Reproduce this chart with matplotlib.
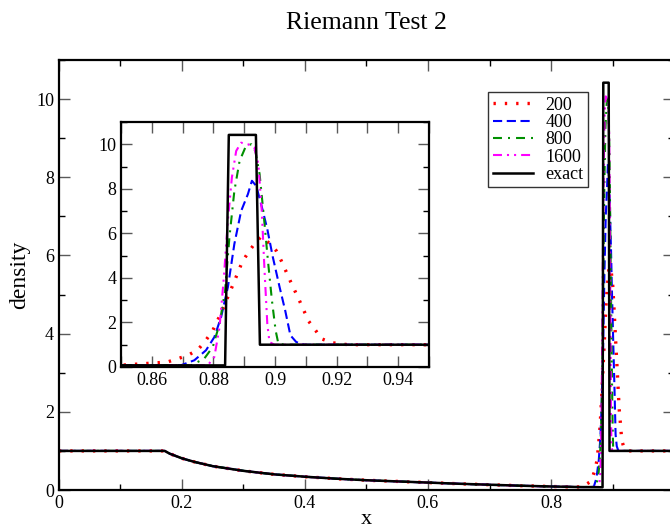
import matplotlib
matplotlib.use("Agg")
import matplotlib.pyplot as plt
from matplotlib.ticker import MultipleLocator

plt.rcParams['font.family'] = ['Liberation Serif', 'DejaVu Serif']

# smooth part (rarefaction) shared by all runs
x_base = [0.0, 0.172, 0.18, 0.19, 0.2, 0.22, 0.25, 0.3, 0.35, 0.4, 0.45, 0.5,
          0.55, 0.6, 0.65, 0.7, 0.75, 0.8, 0.84]
rho_base = [1.0, 1.0, 0.93, 0.87, 0.81, 0.72, 0.61, 0.49, 0.40, 0.34, 0.29, 0.25,
            0.22, 0.19, 0.16, 0.135, 0.11, 0.09, 0.078]

# region around the shell, per resolution
x_200 = [0.85, 0.865, 0.8717, 0.875, 0.8773, 0.8798, 0.8825, 0.8852, 0.8866, 0.8879,
         0.8893, 0.8912, 0.8933, 0.8955, 0.8982, 0.9004, 0.902, 0.905, 0.908, 0.9109,
         0.9132, 0.915, 0.9185, 0.9237, 1.0]
rho_200 = [0.08, 0.22, 0.52, 0.78, 1.15, 1.64, 2.42, 3.31, 3.78, 4.22,
           4.70, 5.12, 5.52, 5.85, 5.55, 5.22, 4.78, 3.85, 2.96, 2.06,
           1.64, 1.27, 1.09, 1.0, 1.0]

x_400 = [0.85, 0.8695, 0.8738, 0.8776, 0.8803, 0.8825, 0.8847, 0.8868, 0.889, 0.8912,
         0.8925, 0.8939, 0.8955, 0.8975, 0.8993, 0.9015, 0.9033, 0.905, 0.9069, 0.9096, 1.0]
rho_400 = [0.075, 0.08, 0.30, 0.75, 1.34, 2.24, 3.58, 5.52, 7.0, 7.76,
           8.36, 8.13, 7.31, 6.19, 4.93, 3.58, 2.54, 1.42, 1.12, 1.0, 1.0]

x_800 = [0.85, 0.8728, 0.877, 0.8798, 0.882, 0.8838, 0.8852, 0.8868, 0.8885, 0.8906,
         0.8923, 0.8936, 0.895, 0.8964, 0.8977, 0.899, 0.9002, 0.9011, 0.9031, 1.0]
rho_800 = [0.075, 0.08, 0.37, 0.90, 1.94, 3.43, 5.82, 7.90, 9.25, 9.93,
           10.0, 9.70, 8.66, 6.72, 4.78, 2.99, 1.64, 1.04, 1.0, 1.0]

x_1600 = [0.85, 0.8782, 0.8803, 0.882, 0.8834, 0.8847, 0.886, 0.8874, 0.889, 0.8912,
          0.8933, 0.8946, 0.8957, 0.8966, 0.8975, 0.8982, 0.8998, 1.0]
rho_1600 = [0.075, 0.08, 0.45, 1.79, 4.03, 6.57, 8.51, 9.70, 10.07, 10.0,
            9.85, 9.10, 7.01, 4.33, 1.94, 1.12, 1.0, 1.0]

x_exact = [0.85, 0.8838, 0.885, 0.8938, 0.8951, 1.0]
rho_exact = [0.075, 0.07, 10.42, 10.42, 1.0, 1.0]

labels = ['200', '400', '800', '1600', 'exact']
colors = ['#ff0000', '#0000ff', '#009000', '#ff00ff', '#000000']
styles = [(0, (0.7, 2.7)), (0, (4.4, 2.2)), (0, (4.3, 2.9, 0.96, 2.9)),
          (0, (4.3, 2.4, 1, 2.4, 1, 2.4)), '-']
widths = [2.4, 1.5, 1.5, 1.5, 1.8]

series = [(x_200, rho_200), (x_400, rho_400), (x_800, rho_800),
          (x_1600, rho_1600), (x_exact, rho_exact)]

fig = plt.figure(figsize=(6.7, 5.31), dpi=100)
ax = fig.add_axes([0.088, 0.0772, 0.918, 0.8098])
ins = fig.add_axes([0.1806, 0.3089, 0.4597, 0.4614])

for (xs, ys), lab, c, ls, lw in zip(series, labels, colors, styles, widths):
    ax.plot(x_base + xs, rho_base + ys, color=c, linestyle=ls, lw=lw, label=lab)
    ins.plot(x_base + xs, rho_base + ys, color=c, linestyle=ls, lw=lw)


def fmt_main(v, p):
    return '' if v > 0.95 else f'{v:g}'


ax.set_xlim(0, 1)
ax.set_ylim(0, 11)
ax.xaxis.set_major_locator(MultipleLocator(0.2))
ax.xaxis.set_minor_locator(MultipleLocator(0.1))
ax.yaxis.set_major_locator(MultipleLocator(2))
ax.yaxis.set_minor_locator(MultipleLocator(1))
ax.xaxis.set_major_formatter(plt.FuncFormatter(fmt_main))
ax.tick_params(which='both', direction='in', top=True, right=True, labelsize=13)
ax.tick_params(which='major', length=8, width=1, color='0.35')
ax.tick_params(which='minor', length=4, width=1, color='black')
for s in ax.spines.values():
    s.set_linewidth(1.6)
ax.set_xlabel('x', fontsize=16, labelpad=-1)
ax.set_ylabel('density', fontsize=17, labelpad=4)
ax.set_title('Riemann Test 2', fontsize=18.5, pad=22)

ins.set_xlim(0.85, 0.95)
ins.set_ylim(0, 11)
ins.xaxis.set_major_locator(MultipleLocator(0.02))
ins.xaxis.set_minor_locator(MultipleLocator(0.01))
ins.yaxis.set_major_locator(MultipleLocator(2))
ins.yaxis.set_minor_locator(MultipleLocator(1))
ins.xaxis.set_major_formatter(plt.FuncFormatter(lambda v, p: f'{v:g}'))
ins.tick_params(which='both', direction='in', top=True, right=True, labelsize=13)
ins.tick_params(which='major', length=8, width=1, color='0.35')
ins.tick_params(axis='x', which='minor', length=8, width=1, color='0.35')
ins.tick_params(axis='y', which='minor', length=4, width=1, color='black')
for s in ins.spines.values():
    s.set_linewidth(1.6)

leg = ax.legend(loc='upper right', bbox_to_anchor=(588 / 670, 1 - 92 / 531),
                bbox_transform=fig.transFigure, fontsize=13, frameon=True,
                fancybox=False, handlelength=2.2, handletextpad=0.7,
                labelspacing=0.02, borderpad=0.25, borderaxespad=0)
leg.get_frame().set_edgecolor('black')
leg.get_frame().set_linewidth(1.0)

fig.savefig('out.png', dpi=100)
